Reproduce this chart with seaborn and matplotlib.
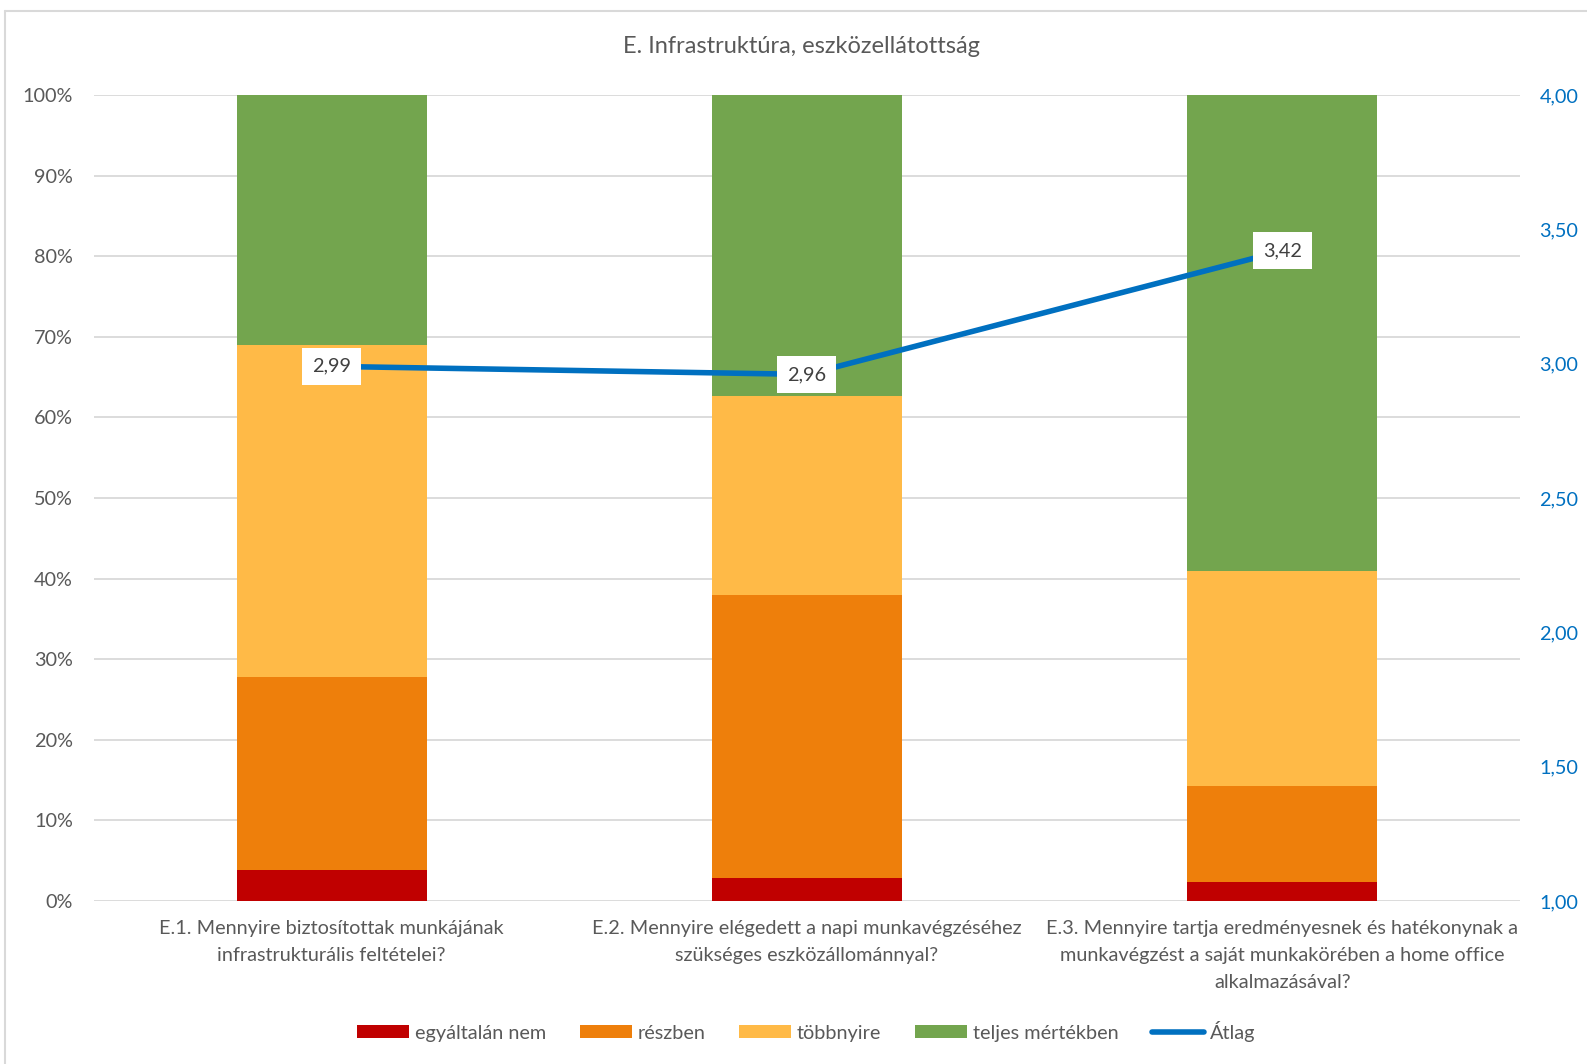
import matplotlib
matplotlib.use("Agg")
import matplotlib.pyplot as plt
from matplotlib.patches import Patch
from matplotlib.lines import Line2D
from matplotlib.ticker import FuncFormatter, MultipleLocator
import numpy as np
import pandas as pd
import seaborn as sns

# --- data -------------------------------------------------------------
title = "E. Infrastruktúra, eszközellátottság"
categories = [
    "E.1. Mennyire biztosítottak munkájának\ninfrastrukturális feltételei?",
    "E.2. Mennyire elégedett a napi munkavégzéséhez\nszükséges eszközállománnyal?",
    "E.3. Mennyire tartja eredményesnek és hatékonynak a\nmunkavégzést a saját munkakörében a home office\nalkalmazásával?",
]
series_names = ["egyáltalán nem", "részben", "többnyire", "teljes mértékben"]
egyaltalan_nem = [3.8, 2.9, 2.4]
reszben = [24.0, 35.1, 11.9]
tobbnyire = [41.2, 24.7, 26.7]
teljes = [31.0, 37.3, 59.0]
atlag = [2.99, 2.96, 3.42]
atlag_label = "Átlag"

colors = ["#C00000", "#EE7F0B", "#FFBA47", "#73A54E"]
line_color = "#0070C0"
text_color = "#595959"
grid_color = "#D9D9D9"
fs = 14.3

# --- style ------------------------------------------------------------
sns.set_theme(style="white")
plt.rcParams["font.family"] = ["Lato", "DejaVu Sans"]

fig = plt.figure(figsize=(15.87, 10.64), dpi=100)
ax = fig.add_axes([0.0592, 0.1532, 0.8986, 0.7575])

df = pd.DataFrame({"cat": categories,
                   series_names[0]: egyaltalan_nem,
                   series_names[1]: reszben,
                   series_names[2]: tobbnyire,
                   series_names[3]: teljes})
layers = df[series_names].cumsum(axis=1)

# stacked bars: draw cumulative totals from the top layer downwards
for name, col in reversed(list(zip(series_names, colors))):
    sns.barplot(x=df["cat"], y=layers[name], color=col, width=0.4,
                saturation=1, ax=ax, zorder=2, linewidth=0)

ax.set_xlim(-0.5, 2.5)
ax.set_ylim(0, 100)
ax.yaxis.set_major_locator(MultipleLocator(10))
ax.yaxis.set_major_formatter(FuncFormatter(lambda v, p: f"{v:.0f}%"))
ax.grid(axis="y", color=grid_color, linewidth=1.3, zorder=0)
ax.set_axisbelow(True)
ax.set_xlabel("")
ax.set_ylabel("")
for s in ax.spines.values():
    s.set_visible(False)
ax.tick_params(axis="y", length=0, pad=15, labelsize=fs, labelcolor=text_color)
ax.tick_params(axis="x", length=0, pad=14, labelsize=fs, labelcolor=text_color)
for lbl in ax.get_xticklabels():
    lbl.set_linespacing(1.7)

# average line on secondary axis
ax2 = ax.twinx()
xpos = np.arange(len(categories))
sns.lineplot(x=xpos, y=atlag, color=line_color, linewidth=4, ax=ax2,
             zorder=3, solid_capstyle="round")
ax2.set_ylim(1, 4)
ax2.yaxis.set_major_locator(MultipleLocator(0.5))
ax2.yaxis.set_major_formatter(FuncFormatter(lambda v, p: f"{v:.2f}".replace(".", ",")))
ax2.tick_params(axis="y", length=0, pad=14, labelsize=fs, labelcolor=line_color)
ax2.grid(False)
for s in ax2.spines.values():
    s.set_visible(False)
ax2.set_ylabel("")

for xv, yv in zip(xpos, atlag):
    ax2.text(xv, yv, f"{yv:.2f}".replace(".", ","), ha="center", va="center",
             fontsize=fs, color="#404040", zorder=5,
             bbox=dict(boxstyle="square,pad=0.5", fc="white", ec="none"))

fig.text(0.505, 0.956, title, ha="center", va="center", fontsize=17,
         color=text_color)

handles = [Patch(facecolor=c, edgecolor="none") for c in colors]
handles.append(Line2D([0], [0], color=line_color, linewidth=4,
                      solid_capstyle="round"))
fig.legend(handles, series_names + [atlag_label], loc="center",
           bbox_to_anchor=(0.508, 0.031), ncol=5, frameon=False, fontsize=fs,
           handlelength=2.6, handleheight=0.6, handletextpad=0.3,
           columnspacing=1.7, labelcolor=text_color)

# chart area frame
fig.add_artist(Line2D([5 / 1587, 5 / 1587], [0, 1 - 11 / 1064],
                      transform=fig.transFigure, color=grid_color, linewidth=1.5))
fig.add_artist(Line2D([5 / 1587, 1], [1 - 11 / 1064, 1 - 11 / 1064],
                      transform=fig.transFigure, color=grid_color, linewidth=1.5))

fig.savefig("out.png", dpi=100, facecolor="white")
